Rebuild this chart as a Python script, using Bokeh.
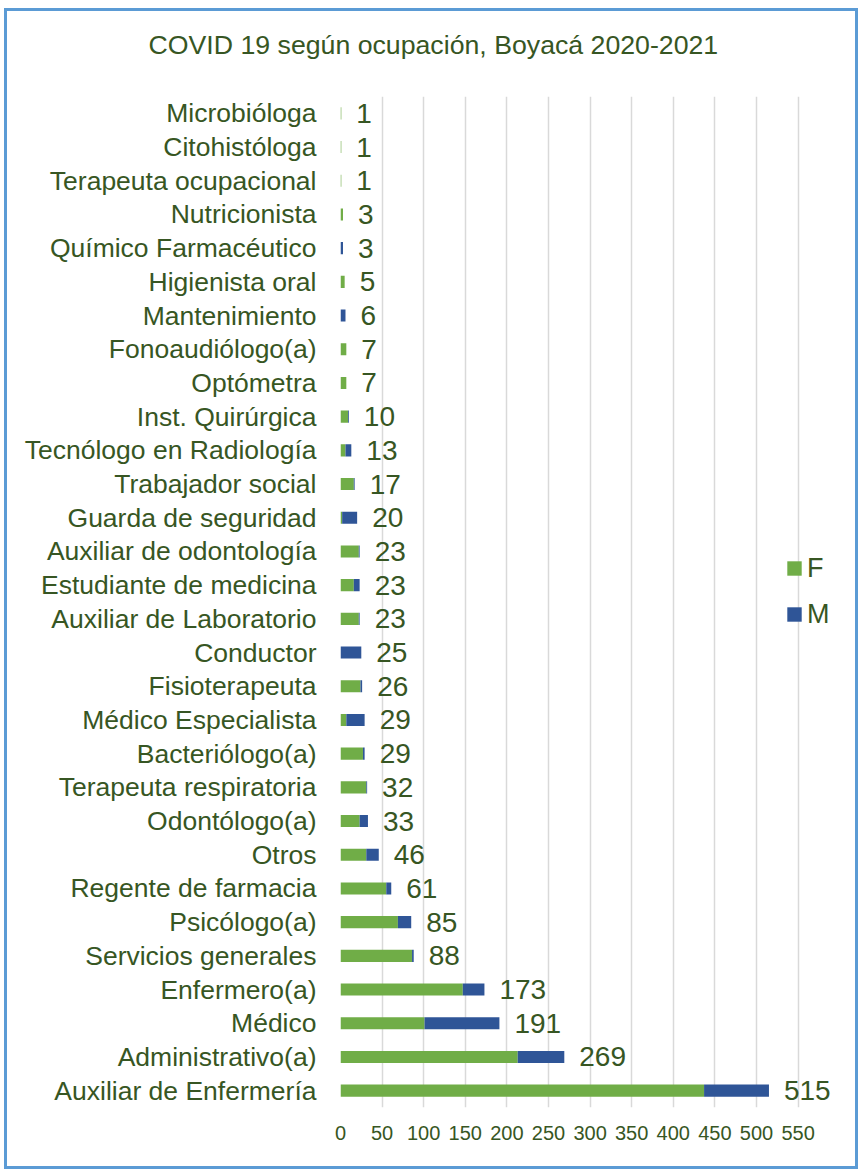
from bokeh.plotting import figure
from bokeh.models import (FactorRange, Range1d, FixedTicker, ColumnDataSource,
                          Legend, LegendItem, Title)
from bokeh.core.properties import value
from bokeh.embed import file_html
from bokeh.resources import INLINE

# Categories listed from top to bottom as in the chart
categories = [
    "Microbióloga", "Citohistóloga", "Terapeuta ocupacional", "Nutricionista",
    "Químico Farmacéutico", "Higienista oral", "Mantenimiento", "Fonoaudiólogo(a)",
    "Optómetra", "Inst. Quirúrgica", "Tecnólogo en Radiología", "Trabajador social",
    "Guarda de seguridad", "Auxiliar de odontología", "Estudiante de medicina",
    "Auxiliar de Laboratorio", "Conductor", "Fisioterapeuta", "Médico Especialista",
    "Bacteriólogo(a)", "Terapeuta respiratoria", "Odontólogo(a)", "Otros",
    "Regente de farmacia", "Psicólogo(a)", "Servicios generales", "Enfermero(a)",
    "Médico", "Administrativo(a)", "Auxiliar de Enfermería",
]
F_values = [1, 1, 1, 3, 0, 5, 0, 7, 7, 9, 6, 16, 2, 22, 16, 22, 0, 24, 7, 27,
            31, 23, 31, 55, 69, 86, 147, 101, 213, 437]
M_values = [0, 0, 0, 0, 3, 0, 6, 0, 0, 1, 7, 1, 18, 1, 7, 1, 25, 2, 22, 2,
            1, 10, 15, 6, 16, 2, 26, 90, 56, 78]
totals = [1, 1, 1, 3, 3, 5, 6, 7, 7, 10, 13, 17, 20, 23, 23, 23, 25, 26, 29, 29,
          32, 33, 46, 61, 85, 88, 173, 191, 269, 515]
x_ticks = [0, 50, 100, 150, 200, 250, 300, 350, 400, 450, 500, 550]

TEXT = "#375623"
GREEN = "#70AD47"
BLUE = "#2F5597"
FONT = "Liberation Sans"

source = ColumnDataSource(dict(cat=categories, F=F_values, M=M_values,
                               total=totals, total_txt=[str(t) for t in totals]))

p = figure(width=854, height=1161, output_backend="svg", toolbar_location=None,
           y_range=FactorRange(factors=list(reversed(categories))),
           x_range=Range1d(0, 613), title_location=None,
           min_border_left=336, min_border_right=8, min_border_bottom=62,
           min_border_top=0)
p.styles = {"box-shadow": "inset 0 0 0 3px #5B9BD5",
            "background-color": "white",
            "margin-left": "4px", "margin-top": "8px"}

# panels "above": first added is nearest to the plot area
p.add_layout(Title(text=" ", text_font_size="21.4px", standoff=0), "above")
main_title = Title(text="COVID 19 según ocupación, Boyacá 2020-2021",
                   text_font=FONT, text_font_size="26.7px",
                   text_font_style="normal", text_color=TEXT,
                   align="left", offset=-192, standoff=22)
p.add_layout(main_title, "above")
p.add_layout(Title(text=" ", text_font_size="6px", standoff=0), "above")

renderers = p.hbar_stack(["F", "M"], y="cat", height=0.36, color=[GREEN, BLUE],
                         line_color=None, source=source)

p.text(x="total", y="cat", text="total_txt", source=source,
       text_font=value(FONT), text_font_size="28px", text_color=TEXT,
       text_align="left", text_baseline="middle", x_offset=15)

legend = Legend(items=[LegendItem(label="F", renderers=[renderers[0]]),
                       LegendItem(label="M", renderers=[renderers[1]])],
                location=(445, 477), orientation="vertical",
                label_text_font=FONT, label_text_font_size="27px",
                label_text_color=TEXT, glyph_width=18, glyph_height=18,
                label_height=32, spacing=14, label_standoff=4,
                padding=0, margin=0, border_line_color=None,
                background_fill_alpha=0)
p.add_layout(legend, "center")

p.xaxis.ticker = FixedTicker(ticks=x_ticks)
p.xaxis.axis_line_color = None
p.xaxis.major_tick_line_color = None
p.xaxis.minor_tick_line_color = None
p.xaxis.major_tick_out = 0
p.xaxis.major_label_standoff = 18
p.xaxis.major_label_text_font = FONT
p.xaxis.major_label_text_font_size = "20px"
p.xaxis.major_label_text_color = TEXT

p.yaxis.axis_line_color = None
p.yaxis.major_tick_line_color = None
p.yaxis.minor_tick_line_color = None
p.yaxis.major_tick_out = 0
p.yaxis.major_label_standoff = 24
p.yaxis.major_label_text_font = FONT
p.yaxis.major_label_text_font_size = "26.5px"
p.yaxis.major_label_text_color = TEXT

p.xgrid.grid_line_color = "#D9D9D9"
p.xgrid.grid_line_width = 1.5
p.ygrid.grid_line_color = None
p.outline_line_color = None
p.background_fill_color = "white"
p.border_fill_color = None

open("out.html", "w").write(file_html(p, INLINE))
